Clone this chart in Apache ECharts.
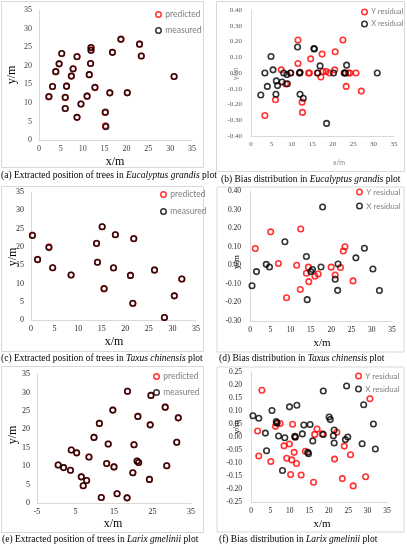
<!DOCTYPE html>
<html>
<head>
<meta charset="utf-8">
<script src="https://cdn.jsdelivr.net/npm/echarts@6/dist/echarts.min.js"></script>
<style>
  html, body { margin: 0; padding: 0; background: #fff; }
  #main { width: 407px; height: 550px; }
</style>
</head>
<body>
<div id="main"></div>
<script>
// (a) Eucalyptus grandis - tree positions
const aMeasX = [2.3, 3.1, 3.8, 4.6, 5.2, 6.0, 6.0, 6.3, 7.4, 7.8, 8.7, 8.7, 9.6, 11.0, 11.5, 11.8, 11.9, 11.9, 12.8, 15.2, 15.3, 16.2, 16.8, 18.7, 20.2, 23.0, 23.4, 30.9];
const aMeasY = [11.7, 14.4, 18.4, 20.5, 23.3, 11.5, 8.5, 14.5, 17.2, 19.2, 22.4, 6.1, 9.7, 11.8, 17.6, 20.6, 24.1, 24.9, 14.2, 7.5, 3.6, 12.7, 23.6, 27.1, 12.7, 25.8, 22.6, 17.1];
const aPredX = [2.2, 3.1, 3.9, 4.6, 5.2, 6.0, 6.0, 6.3, 7.4, 7.8, 8.7, 8.7, 9.6, 11.0, 11.5, 11.8, 11.9, 11.9, 12.8, 15.1, 15.2, 16.2, 16.8, 18.8, 20.2, 23.0, 23.4, 30.9];
const aPredY = [11.6, 14.4, 18.4, 20.5, 23.3, 11.4, 8.5, 14.5, 17.2, 19.1, 22.5, 6.1, 9.7, 11.8, 17.6, 20.6, 24.3, 24.9, 14.1, 7.4, 3.8, 12.7, 23.6, 27.2, 12.8, 25.8, 22.6, 17.1];

// (b) Eucalyptus grandis - residuals
const bResYX = [3.4, 6.0, 7.4, 8.5, 9.7, 11.5, 11.5, 11.9, 12.5, 12.6, 14.1, 14.6, 17.1, 17.4, 17.6, 18.4, 19.2, 20.5, 20.6, 22.5, 22.8, 23.3, 23.8, 24.2, 25.7, 27.0, 14.3, 16.3];
const bResYY = [-0.27, -0.17, 0.02, -0.07, 0, 0.21, 0.06, 0, -0.185, -0.25, 0, 0.09, -0.025, 0.12, 0.01, 0.01, 0, 0.02, 0.135, 0.21, 0, -0.085, 0, 0, 0, -0.115, 0, 0];
const bResXX = [2.4, 3.4, 4.0, 4.9, 5.4, 6.1, 6.2, 6.5, 7.6, 8.0, 8.8, 8.9, 9.7, 11.4, 11.9, 12.0, 12.0, 12.8, 15.4, 16.3, 16.9, 18.5, 20.2, 23.1, 23.4, 30.9, 15.5, 22.9];
const bResXY = [-0.14, 0, -0.085, 0.105, 0.02, -0.135, -0.05, -0.08, -0.057, 0, -0.01, -0.068, 0, 0.165, 0, 0.005, -0.135, -0.16, 0.155, 0, 0.045, -0.32, 0, 0, 0.05, 0, 0.152, 0];

// (c) Taxus chinensis - tree positions
const cMeasX = [0.3, 1.4, 3.8, 4.6, 8.5, 13.9, 14.1, 15.1, 15.5, 17.5, 17.9, 21.1, 21.6, 21.8, 26.2, 28.3, 30.4, 32.0];
const cMeasY = [23.1, 16.5, 19.8, 14.3, 12.3, 20.9, 15.8, 25.5, 8.6, 14.3, 23.3, 12.2, 4.6, 22.2, 13.7, 0.7, 6.6, 11.2];
const cPredX = [0.3, 1.4, 3.8, 4.6, 8.5, 13.9, 14.1, 15.1, 15.5, 17.5, 17.9, 21.1, 21.6, 21.8, 26.2, 28.3, 30.4, 32.0];
const cPredY = [23.2, 16.6, 20.0, 14.3, 12.3, 21.0, 15.8, 25.5, 8.5, 14.2, 23.3, 12.2, 4.5, 22.3, 13.6, 0.7, 6.6, 11.2];

// (d) Taxus chinensis - residuals
const dResYX = [1.3, 5.1, 7.0, 9.0, 11.5, 12.5, 12.4, 13.9, 14.4, 14.5, 16.0, 16.8, 20.0, 21.0, 22.3, 23.0, 23.4, 25.4];
const dResYY = [0.09, 0.18, 0.01, -0.175, 0.0, 0.195, -0.13, -0.043, -0.01, -0.088, -0.059, -0.047, -0.01, -0.052, -0.012, 0.077, 0.1, -0.084];
const dResXX = [0.5, 1.6, 4.0, 4.8, 8.6, 13.9, 14.1, 15.0, 15.4, 17.5, 17.9, 21.0, 21.6, 21.7, 26.1, 28.2, 30.3, 31.9];
const dResXY = [-0.11, -0.034, 0.005, -0.009, 0.127, 0.047, -0.185, -0.034, -0.023, -0.009, 0.314, -0.075, -0.135, 0.007, 0.04, 0.092, -0.02, -0.136];

// (e) Larix gmelinii - tree positions
const eMeasX = [0.5, 1.9, 3.7, 3.9, 5.3, 6.5, 7.0, 7.9, 8.5, 9.8, 11.2, 11.7, 13.1, 13.5, 14.7, 15.0, 15.8, 18.5, 18.4, 19.9, 20.2, 21.0, 21.4, 21.2, 24.2, 24.4, 24.6, 28.3, 28.7, 31.3, 31.7];
const eMeasY = [10.3, 9.6, 8.9, 14.4, 13.6, 7.1, 4.7, 6.1, 12.5, 17.8, 21.6, 1.5, 10.7, 16.0, 25.2, 9.8, 2.5, 30.3, 1.4, 8.2, 15.8, 11.4, 11.0, 23.5, 6.4, 21.2, 29.2, 26.0, 10.1, 16.5, 23.1];
const ePredX = [0.5, 1.9, 3.7, 3.9, 5.3, 6.5, 7.0, 7.9, 8.5, 9.8, 11.2, 11.7, 13.1, 13.5, 14.7, 15.0, 15.8, 18.5, 18.4, 19.9, 20.2, 21.0, 21.4, 21.2, 24.2, 24.4, 24.6, 28.3, 28.7, 31.3, 31.7];
const ePredY = [10.3, 9.6, 8.9, 14.4, 13.6, 7.1, 4.7, 6.1, 12.5, 17.8, 21.6, 1.5, 10.7, 16.0, 25.2, 9.8, 2.5, 30.3, 1.4, 8.2, 15.8, 11.4, 11.0, 23.5, 6.4, 21.2, 29.2, 26.0, 10.1, 16.5, 23.1];

// (f) Larix gmelinii - residuals
const fResYX = [2.8, 1.7, 2.0, 5.1, 6.3, 6.7, 7.5, 8.5, 9.9, 9.2, 10.5, 10.7, 11.3, 11.1, 11.7, 10.2, 12.9, 14.0, 16.1, 16.4, 17.0, 18.3, 21.5, 22.1, 23.5, 24.0, 25.6, 26.3, 29.5, 30.6];
const fResYY = [0.18, 0.023, -0.073, -0.094, 0.041, 0.053, 0.052, -0.034, -0.027, -0.082, -0.088, 0.049, 0.001, -0.059, -0.102, -0.144, -0.146, -0.055, -0.174, 0.01, 0.031, 0.012, -0.085, 0.018, -0.16, -0.035, -0.068, -0.188, -0.153, 0.147];
const fResXX = [0.5, 2.0, 5.4, 3.7, 4.0, 6.5, 6.7, 7.1, 8.7, 8.1, 9.9, 11.8, 11.4, 11.3, 13.2, 13.6, 15.2, 14.8, 14.6, 15.9, 18.6, 18.6, 20.1, 20.4, 21.2, 21.4, 21.4, 24.3, 24.9, 24.6, 28.6, 29.0, 31.5, 32.0];
const fResXY = [0.082, 0.072, 0.102, 0.015, -0.053, 0.059, 0.054, 0.004, -0.003, -0.129, 0.116, 0.122, -0.001, 0.003, 0.012, 0.046, 0.048, -0.064, -0.059, -0.015, 0.177, 0.01, 0.077, 0.067, 0.005, 0.027, -0.023, -0.01, 0.0, 0.196, -0.026, 0.124, 0.05, -0.046];

const captions = [
  '(a) Extracted position of trees in {i|Eucalyptus grandis} plot',
  '(b) Bias distribution in {i|Eucalyptus grandis} plot',
  '(c) Extracted position of trees in {i|Taxus chinensis} plot',
  '(d) Bias distribution in {i|Taxus chinensis} plot',
  '(e) Extracted position of trees in {i|Larix gmelinii} plot',
  '(f) Bias distribution in {i|Larix gmelinii} plot'
];

const zip = (xs, ys) => xs.map((x, i) => [x, ys[i]]);
const serif = 'Liberation Serif';
const sans = 'Lato';
const RED = '#ff0000';
const BLACK = '#000000';
const AXIS = '#d9d9d9';

const myChart = echarts.init(document.getElementById('main'), null, { renderer: 'canvas' });

// panel layout: grid box, axis ranges, label style
const panels = [
  { grid: { left: 39, top: 10, width: 153, height: 130 }, x: [0, 35, 5], y: [0, 35, 5], dec: 0, tick: { color: '#404040', size: 8 }, yMargin: 7 },
  { grid: { left: 251, top: 10, width: 143, height: 126 }, x: [0, 35, 5], y: [-0.4, 0.4, 0.1], dec: 2, tick: { color: '#595959', size: 7 }, yMargin: 9 },
  { grid: { left: 31, top: 192, width: 165, height: 128 }, x: [0, 35, 5], y: [0, 35, 5], dec: 0, tick: { color: '#262626', size: 8 }, yMargin: 7 },
  { grid: { left: 250, top: 191, width: 142, height: 130 }, x: [0, 35, 5], y: [-0.3, 0.4, 0.1], dec: 2, tick: { color: '#262626', size: 7.5 }, yMargin: 9 },
  { grid: { left: 37, top: 374, width: 154, height: 129 }, x: [-5, 35, 10], y: [0, 35, 5], dec: 0, tick: { color: '#262626', size: 8 }, yMargin: 7 },
  { grid: { left: 251, top: 372, width: 136, height: 130 }, x: [0, 35, 5], y: [-0.25, 0.25, 0.05], dec: 2, tick: { color: '#262626', size: 7.5 }, yMargin: 9 }
];

const grid = panels.map(p => p.grid);
const xAxis = panels.map((p, i) => ({
  type: 'value', gridIndex: i, min: p.x[0], max: p.x[1], interval: p.x[2],
  axisLine: { show: true, onZero: false, lineStyle: { color: AXIS, width: 1 } },
  axisTick: { show: false }, splitLine: { show: false },
  axisLabel: { margin: 5, color: p.tick.color, fontSize: p.tick.size, fontFamily: serif }
}));
const yAxis = panels.map((p, i) => ({
  type: 'value', gridIndex: i, min: p.y[0], max: p.y[1], interval: p.y[2],
  axisLine: { show: true, onZero: false, lineStyle: { color: AXIS, width: 1 } },
  axisTick: { show: false }, splitLine: { show: false },
  axisLabel: {
    margin: p.yMargin, color: p.tick.color, fontSize: p.tick.size, fontFamily: serif,
    formatter: v => v.toFixed(p.dec)
  }
}));

function dots(name, color, data, idx) {
  return {
    type: 'scatter', name: name, xAxisIndex: idx, yAxisIndex: idx,
    data: data, symbol: 'circle', symbolSize: 5.5,
    itemStyle: { color: 'rgba(255,255,255,0)', borderColor: color, borderWidth: 1.6 },
    emphasis: { disabled: true }, silent: true
  };
}

const series = [
  dots('predicted', RED, zip(aPredX, aPredY), 0),
  dots('measured', BLACK, zip(aMeasX, aMeasY), 0),
  dots('Y residual', RED, zip(bResYX, bResYY), 1),
  dots('X residual', BLACK, zip(bResXX, bResXY), 1),
  dots('predicted', RED, zip(cPredX, cPredY), 2),
  dots('measured', BLACK, zip(cMeasX, cMeasY), 2),
  dots('Y residual', RED, zip(dResYX, dResYY), 3),
  dots('X residual', BLACK, zip(dResXX, dResXY), 3),
  dots('predicted', RED, zip(ePredX, ePredY), 4),
  dots('measured', BLACK, zip(eMeasX, eMeasY), 4),
  dots('Y residual', RED, zip(fResYX, fResYY), 5),
  dots('X residual', BLACK, zip(fResXX, fResXY), 5)
];

function leg(names, left, top, gap, size) {
  return {
    data: names, orient: 'vertical', left: left, top: top, padding: 0,
    itemGap: gap, itemWidth: 5.5, itemHeight: 5.5, selectedMode: false,
    itemStyle: { borderWidth: 1.5 },
    textStyle: { color: '#7f7f7f', fontSize: size, fontFamily: sans, padding: [0, 0, 0, -1] }
  };
}
const posNames = ['predicted', 'measured'];
const resNames = ['Y residual', 'X residual'];
const legend = [
  leg(posNames, 155, 10, 7, 8.5),
  leg(resNames, 361, 8, 4, 7.5),
  leg(posNames, 160, 190, 8, 8.5),
  leg(resNames, 356, 188, 6, 8),
  leg(posNames, 153, 372, 7, 8.5),
  leg(resNames, 355, 372, 5, 8)
];

// frames, axis names and captions
const frames = [
  [1.5, 1.5, 202, 166], [216.5, 1.5, 188, 170],
  [1.5, 186.5, 202, 165], [217, 187, 187, 165],
  [1.5, 366.5, 202, 166], [217, 367, 187, 165]
];
const graphic = [];
frames.forEach(f => graphic.push({
  type: 'rect', shape: { x: f[0], y: f[1], width: f[2], height: f[3] },
  style: { fill: 'none', stroke: '#d9d9d9', lineWidth: 1 }, silent: true, z: -1
}));

function txt(s, x, y, size, color, family, rot) {
  return {
    type: 'text', x: x, y: y, rotation: rot || 0, silent: true,
    style: { text: s, fontSize: size, fill: color, fontFamily: family, align: 'center', verticalAlign: 'middle' }
  };
}
graphic.push(
  txt('x/m', 115, 162, 12, '#000', serif), txt('y/m', 12, 75, 12, '#000', serif, Math.PI / 2),
  txt('x/m', 339, 163, 7, '#7f7f7f', sans), txt('y/m', 236, 74, 7, '#7f7f7f', sans, Math.PI / 2),
  txt('x/m', 114, 342, 12, '#000', serif), txt('y/m', 13, 257, 12, '#000', serif, Math.PI / 2),
  txt('x/m', 322, 343, 11, '#000', serif), txt('y/m', 237, 262, 9, '#000', serif, Math.PI / 2),
  txt('x/m', 113, 524, 12, '#000', serif), txt('y/m', 13, 435, 12, '#000', serif, Math.PI / 2),
  txt('x/m', 322, 524, 11, '#000', serif), txt('y/m', 237, 427, 9, '#000', serif, Math.PI / 2)
);

const capPos = [[1, 175], [221, 179], [1, 358], [219, 358], [2, 539], [219, 539]];
captions.forEach((c, i) => graphic.push({
  type: 'text', x: capPos[i][0], y: capPos[i][1], silent: true,
  style: {
    text: c, fontSize: 9.5, fill: '#000', fontFamily: serif, verticalAlign: 'middle',
    rich: { i: { fontStyle: 'italic', fontSize: 9.5, fontFamily: serif } }
  }
}));

const option = {
  animation: false,
  backgroundColor: '#fff',
  grid, xAxis, yAxis, legend, series, graphic
};
option && myChart.setOption(option);
</script>
</body>
</html>
